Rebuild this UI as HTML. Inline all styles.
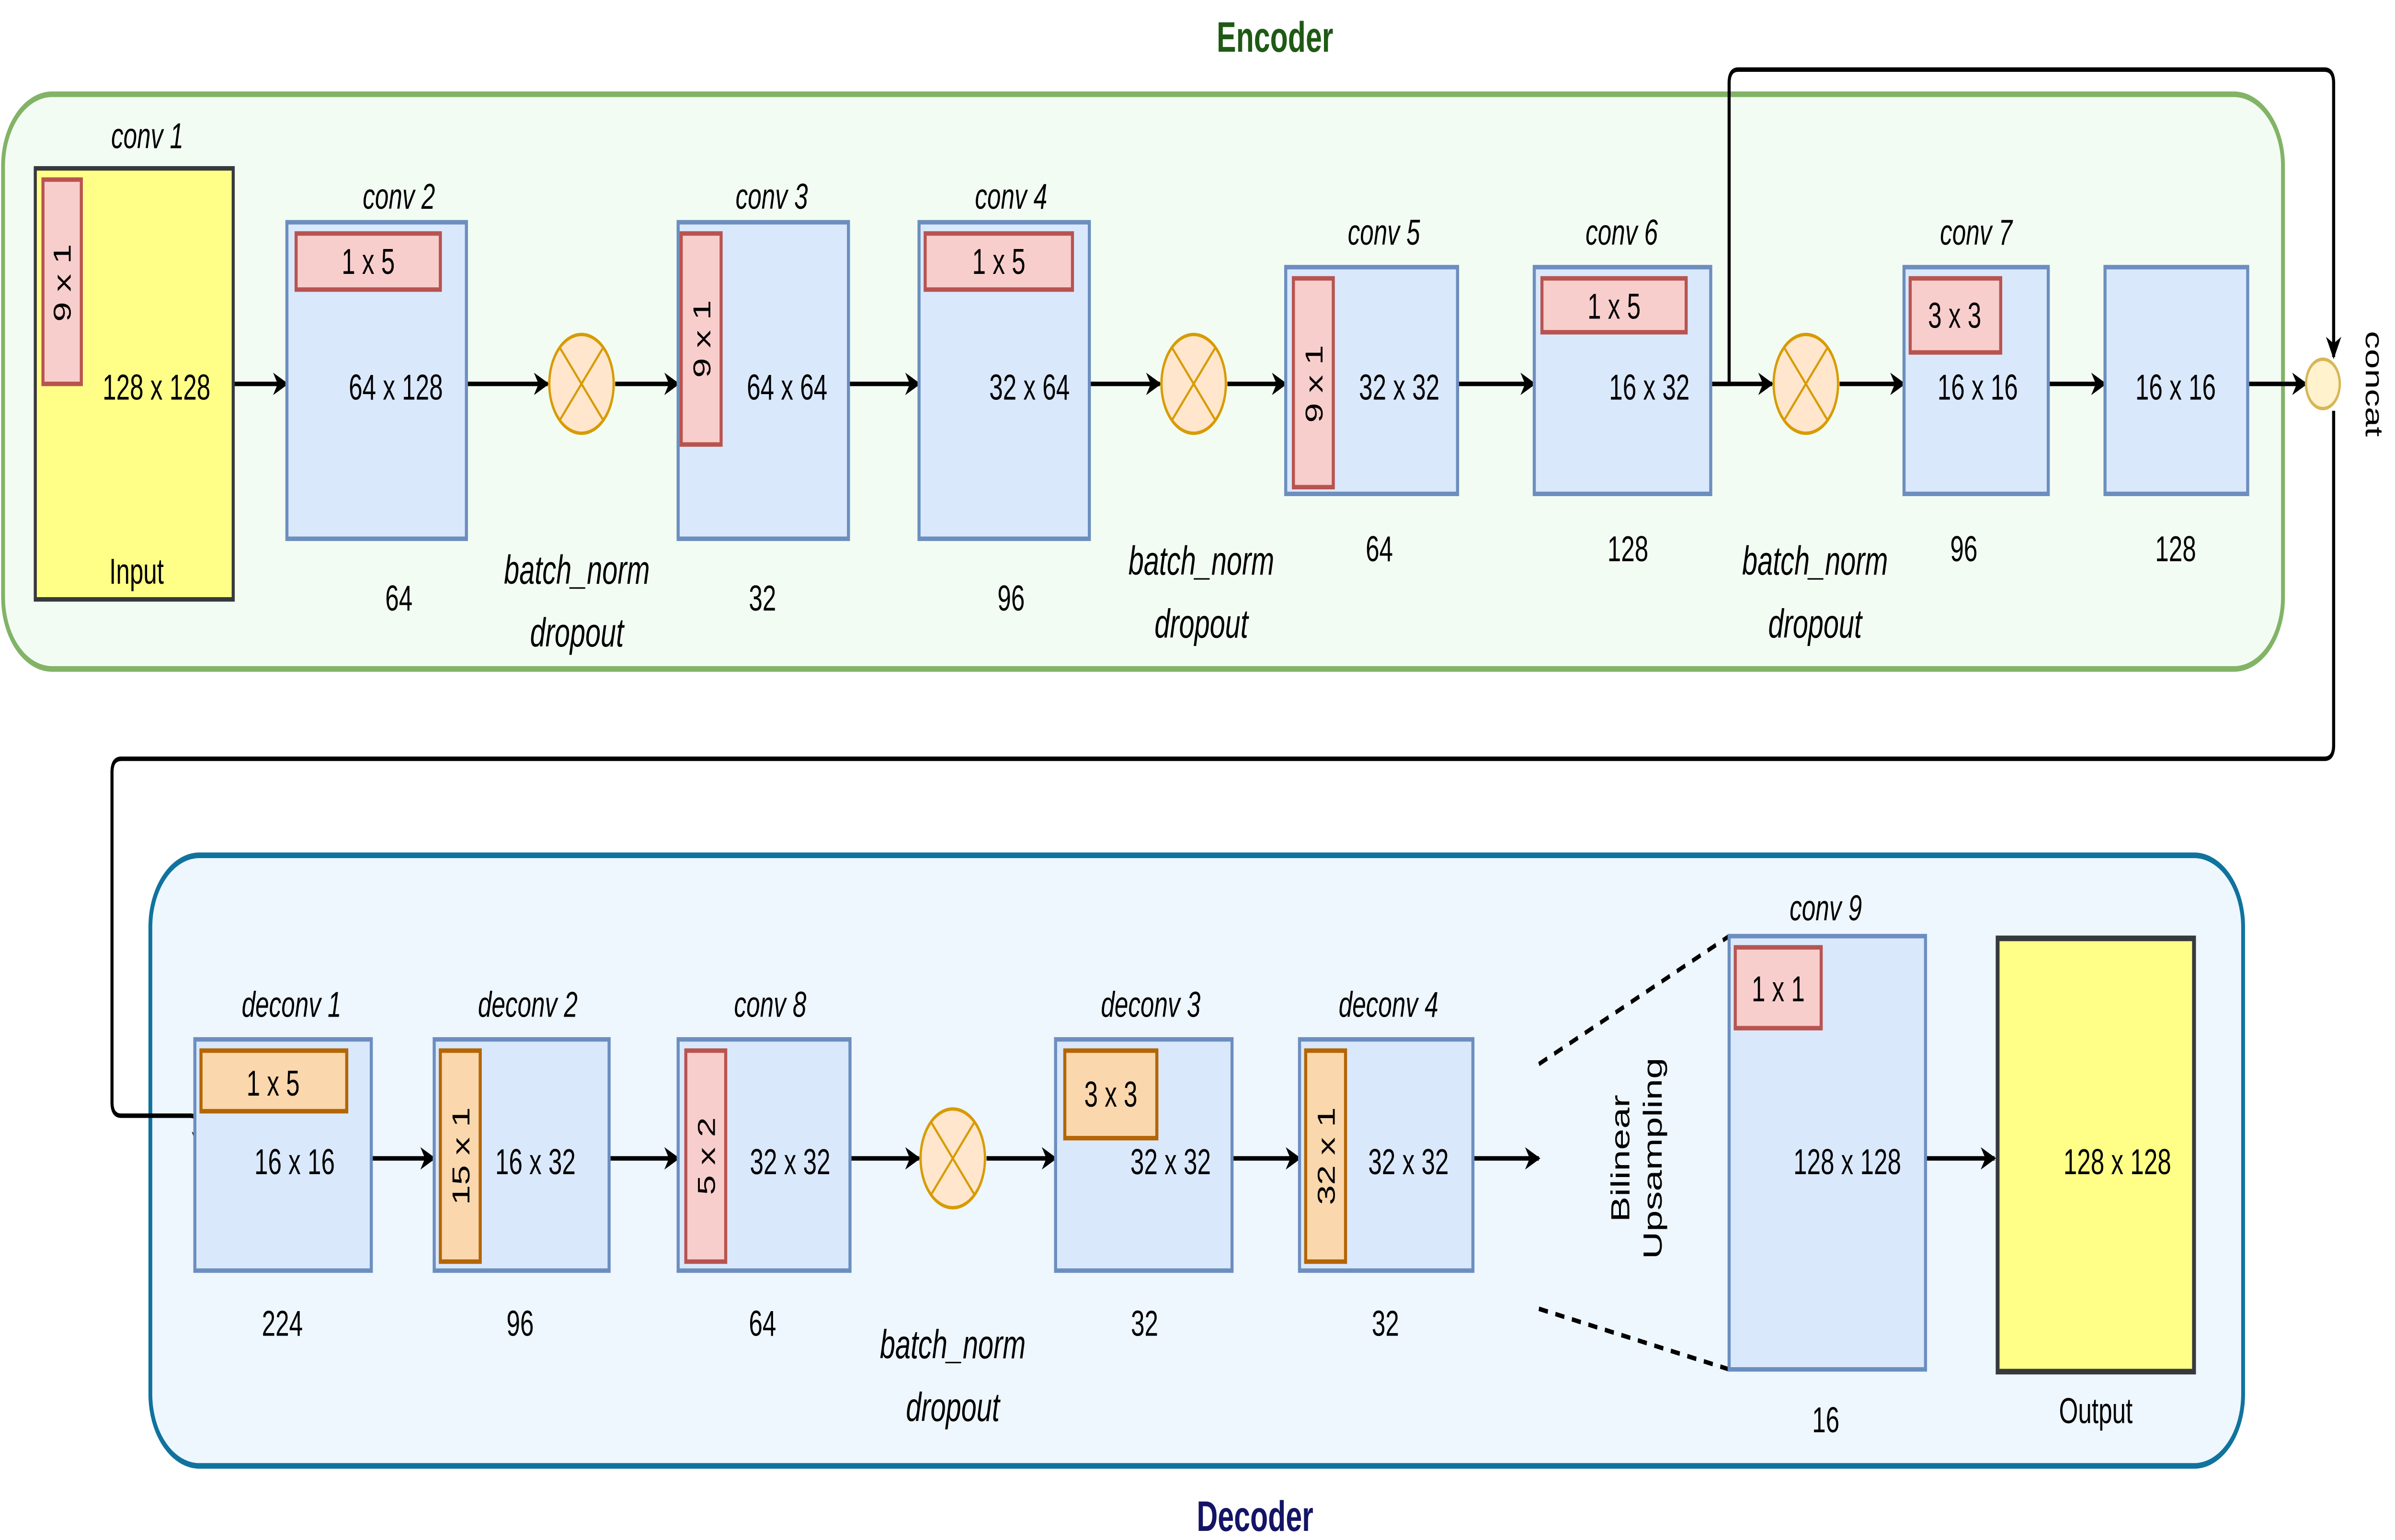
<!DOCTYPE html>
<html><head><meta charset="utf-8"><style>
html,body{margin:0;padding:0;background:#fff;overflow:hidden;width:100vw;height:100vh;}
svg{display:block;width:100vw;height:100vh;}
text{font-family:"Liberation Sans",sans-serif;fill:#000;}
.l{font-size:16px;}
.i{font-size:16px;font-style:italic;}
.s{font-family:"Liberation Serif",serif;font-size:18px;font-style:italic;}
</style></head><body>
<svg viewBox="0 0 1561 686" preserveAspectRatio="none" xmlns="http://www.w3.org/2000/svg">
<defs>
<marker id="a" markerWidth="10" markerHeight="10" refX="9" refY="5" orient="auto" markerUnits="userSpaceOnUse">
<path d="M0,0 L10,5 L0,10 L3,5 Z" fill="#000"/></marker>
<g id="bn"><ellipse cx="0" cy="0" rx="21" ry="22" fill="#ffe6cc" stroke="#d79b00" stroke-width="1.5"/>
<path d="M-14,-16 L14,16 M14,-16 L-14,16" stroke="#d79b00" stroke-width="1.2"/></g>
</defs>
<rect x="2" y="42" width="1486" height="256" rx="32" fill="#f3fcf3" stroke="#82b366" stroke-width="2.5"/>
<text x="831" y="23" text-anchor="middle" style="font-size:19px;font-weight:bold;fill:#1e5a14">Encoder</text>
<rect x="98" y="381" width="1364" height="272" rx="32" fill="#eef6fe" stroke="#10739e" stroke-width="2.5"/>
<text x="818" y="682" text-anchor="middle" style="font-size:19px;font-weight:bold;fill:#141466">Decoder</text>

<g stroke="#000" stroke-width="2" fill="none" marker-end="url(#a)">
<path d="M152,171H187"/><path d="M304,171H357"/><path d="M401,171H442"/><path d="M553,171H599"/>
<path d="M710,171H756"/><path d="M800,171H838"/><path d="M950,171H1000"/><path d="M1115,171H1155"/>
<path d="M1199,171H1241"/><path d="M1335,171H1372"/><path d="M1465,171H1503"/>
<path d="M1115,171H1127V37Q1127,31 1133,31H1515Q1521,31 1521,37V159"/>
<path d="M1521,183V332Q1521,338 1515,338H79Q73,338 73,344V491Q73,497 79,497H124Q130,497 130,503V513"/>
<path d="M242,516H283"/><path d="M397,516H442"/><path d="M554,516H599"/><path d="M643,516H688"/>
<path d="M803,516H847"/><path d="M960,516H1003"/><path d="M1255,516H1300"/>
</g>
<path d="M1003,474L1127,417M1003,583L1127,610" stroke="#000" stroke-width="2" stroke-dasharray="6,5"/>

<rect x="23" y="75" width="129" height="192" fill="#ffff88" stroke="#36393d" stroke-width="2"/>
<rect x="28" y="80" width="25" height="91" fill="#f8cecc" stroke="#b85450" stroke-width="2"/>
<text class="l" transform="translate(46,126) rotate(-90)" text-anchor="middle">9 x 1</text>
<text class="l" x="102" y="178" text-anchor="middle">128 x 128</text>
<text class="l" x="89" y="260" text-anchor="middle">Input</text>
<text class="i" x="96" y="66" text-anchor="middle">conv 1</text>

<g fill="#dae8fc" stroke="#6c8ebf" stroke-width="2">
<rect x="187" y="99" width="117" height="141"/><rect x="442" y="99" width="111" height="141"/>
<rect x="599" y="99" width="111" height="141"/><rect x="838" y="119" width="112" height="101"/>
<rect x="1000" y="119" width="115" height="101"/><rect x="1241" y="119" width="94" height="101"/>
<rect x="1372" y="119" width="93" height="101"/>
<rect x="127" y="463" width="115" height="103"/><rect x="283" y="463" width="114" height="103"/>
<rect x="442" y="463" width="112" height="103"/><rect x="688" y="463" width="115" height="103"/>
<rect x="847" y="463" width="113" height="103"/><rect x="1127" y="417" width="128" height="193"/>
</g>
<rect x="1302" y="418" width="128" height="193" fill="#ffff88" stroke="#36393d" stroke-width="2.5"/>

<g fill="#f8cecc" stroke="#b85450" stroke-width="2">
<rect x="193" y="104" width="94" height="25"/><rect x="444" y="104" width="26" height="94"/>
<rect x="603" y="104" width="96" height="25"/><rect x="843" y="124" width="26" height="93"/>
<rect x="1005" y="124" width="94" height="24"/><rect x="1245" y="124" width="59" height="33"/>
<rect x="447" y="468" width="26" height="94"/><rect x="1131" y="422" width="56" height="36"/>
</g>
<g fill="#fad7ac" stroke="#b46504" stroke-width="2">
<rect x="131" y="468" width="95" height="27"/><rect x="287" y="468" width="26" height="94"/>
<rect x="694" y="468" width="60" height="39"/><rect x="851" y="468" width="26" height="94"/>
</g>

<g class="l" text-anchor="middle">
<text x="240" y="122">1 x 5</text><text x="651" y="122">1 x 5</text><text x="1052" y="142">1 x 5</text>
<text x="1274" y="146">3 x 3</text><text x="178" y="488">1 x 5</text><text x="724" y="493">3 x 3</text>
<text x="1159" y="446">1 x 1</text>
<text transform="translate(463,151) rotate(-90)">9 x 1</text>
<text transform="translate(862,171) rotate(-90)">9 x 1</text>
<text transform="translate(306,515) rotate(-90)">15 x 1</text>
<text transform="translate(466,515) rotate(-90)">5 x 2</text>
<text transform="translate(870,515) rotate(-90)">32 x 1</text>

<text x="258" y="178">64 x 128</text><text x="513" y="178">64 x 64</text><text x="671" y="178">32 x 64</text>
<text x="912" y="178">32 x 32</text><text x="1075" y="178">16 x 32</text><text x="1289" y="178">16 x 16</text>
<text x="1418" y="178">16 x 16</text>
<text x="192" y="523">16 x 16</text><text x="349" y="523">16 x 32</text><text x="515" y="523">32 x 32</text>
<text x="763" y="523">32 x 32</text><text x="918" y="523">32 x 32</text><text x="1204" y="523">128 x 128</text>
<text x="1380" y="523">128 x 128</text>

<text x="260" y="272">64</text><text x="497" y="272">32</text><text x="659" y="272">96</text>
<text x="899" y="250">64</text><text x="1061" y="250">128</text><text x="1280" y="250">96</text><text x="1418" y="250">128</text>
<text x="184" y="595">224</text><text x="339" y="595">96</text><text x="497" y="595">64</text>
<text x="746" y="595">32</text><text x="903" y="595">32</text><text x="1190" y="638">16</text><text x="1366" y="634">Output</text>
<text transform="translate(1542,171) rotate(90)">concat</text>
<text transform="translate(1062,516) rotate(-90)" style="font-size:17px">Bilinear</text>
<text transform="translate(1083,516) rotate(-90)" style="font-size:17px">Upsampling</text>
</g>
<g class="i" text-anchor="middle">
<text x="260" y="93">conv 2</text><text x="503" y="93">conv 3</text><text x="659" y="93">conv 4</text>
<text x="902" y="109">conv 5</text><text x="1057" y="109">conv 6</text><text x="1288" y="109">conv 7</text>
<text x="190" y="453">deconv 1</text><text x="344" y="453">deconv 2</text><text x="502" y="453">conv 8</text>
<text x="750" y="453">deconv 3</text><text x="905" y="453">deconv 4</text><text x="1190" y="410">conv 9</text>
</g>
<g class="s" text-anchor="middle">
<text x="376" y="260">batch_norm</text><text x="376" y="288">dropout</text>
<text x="783" y="256">batch_norm</text><text x="783" y="284">dropout</text>
<text x="1183" y="256">batch_norm</text><text x="1183" y="284">dropout</text>
<text x="621" y="605">batch_norm</text><text x="621" y="633">dropout</text>
</g>
<use href="#bn" x="379" y="171"/><use href="#bn" x="778" y="171"/><use href="#bn" x="1177" y="171"/><use href="#bn" x="621" y="516"/>
<circle cx="1514" cy="171" r="11" fill="#fff2cc" stroke="#d6b656" stroke-width="1.5"/>
</svg>
</body></html>
